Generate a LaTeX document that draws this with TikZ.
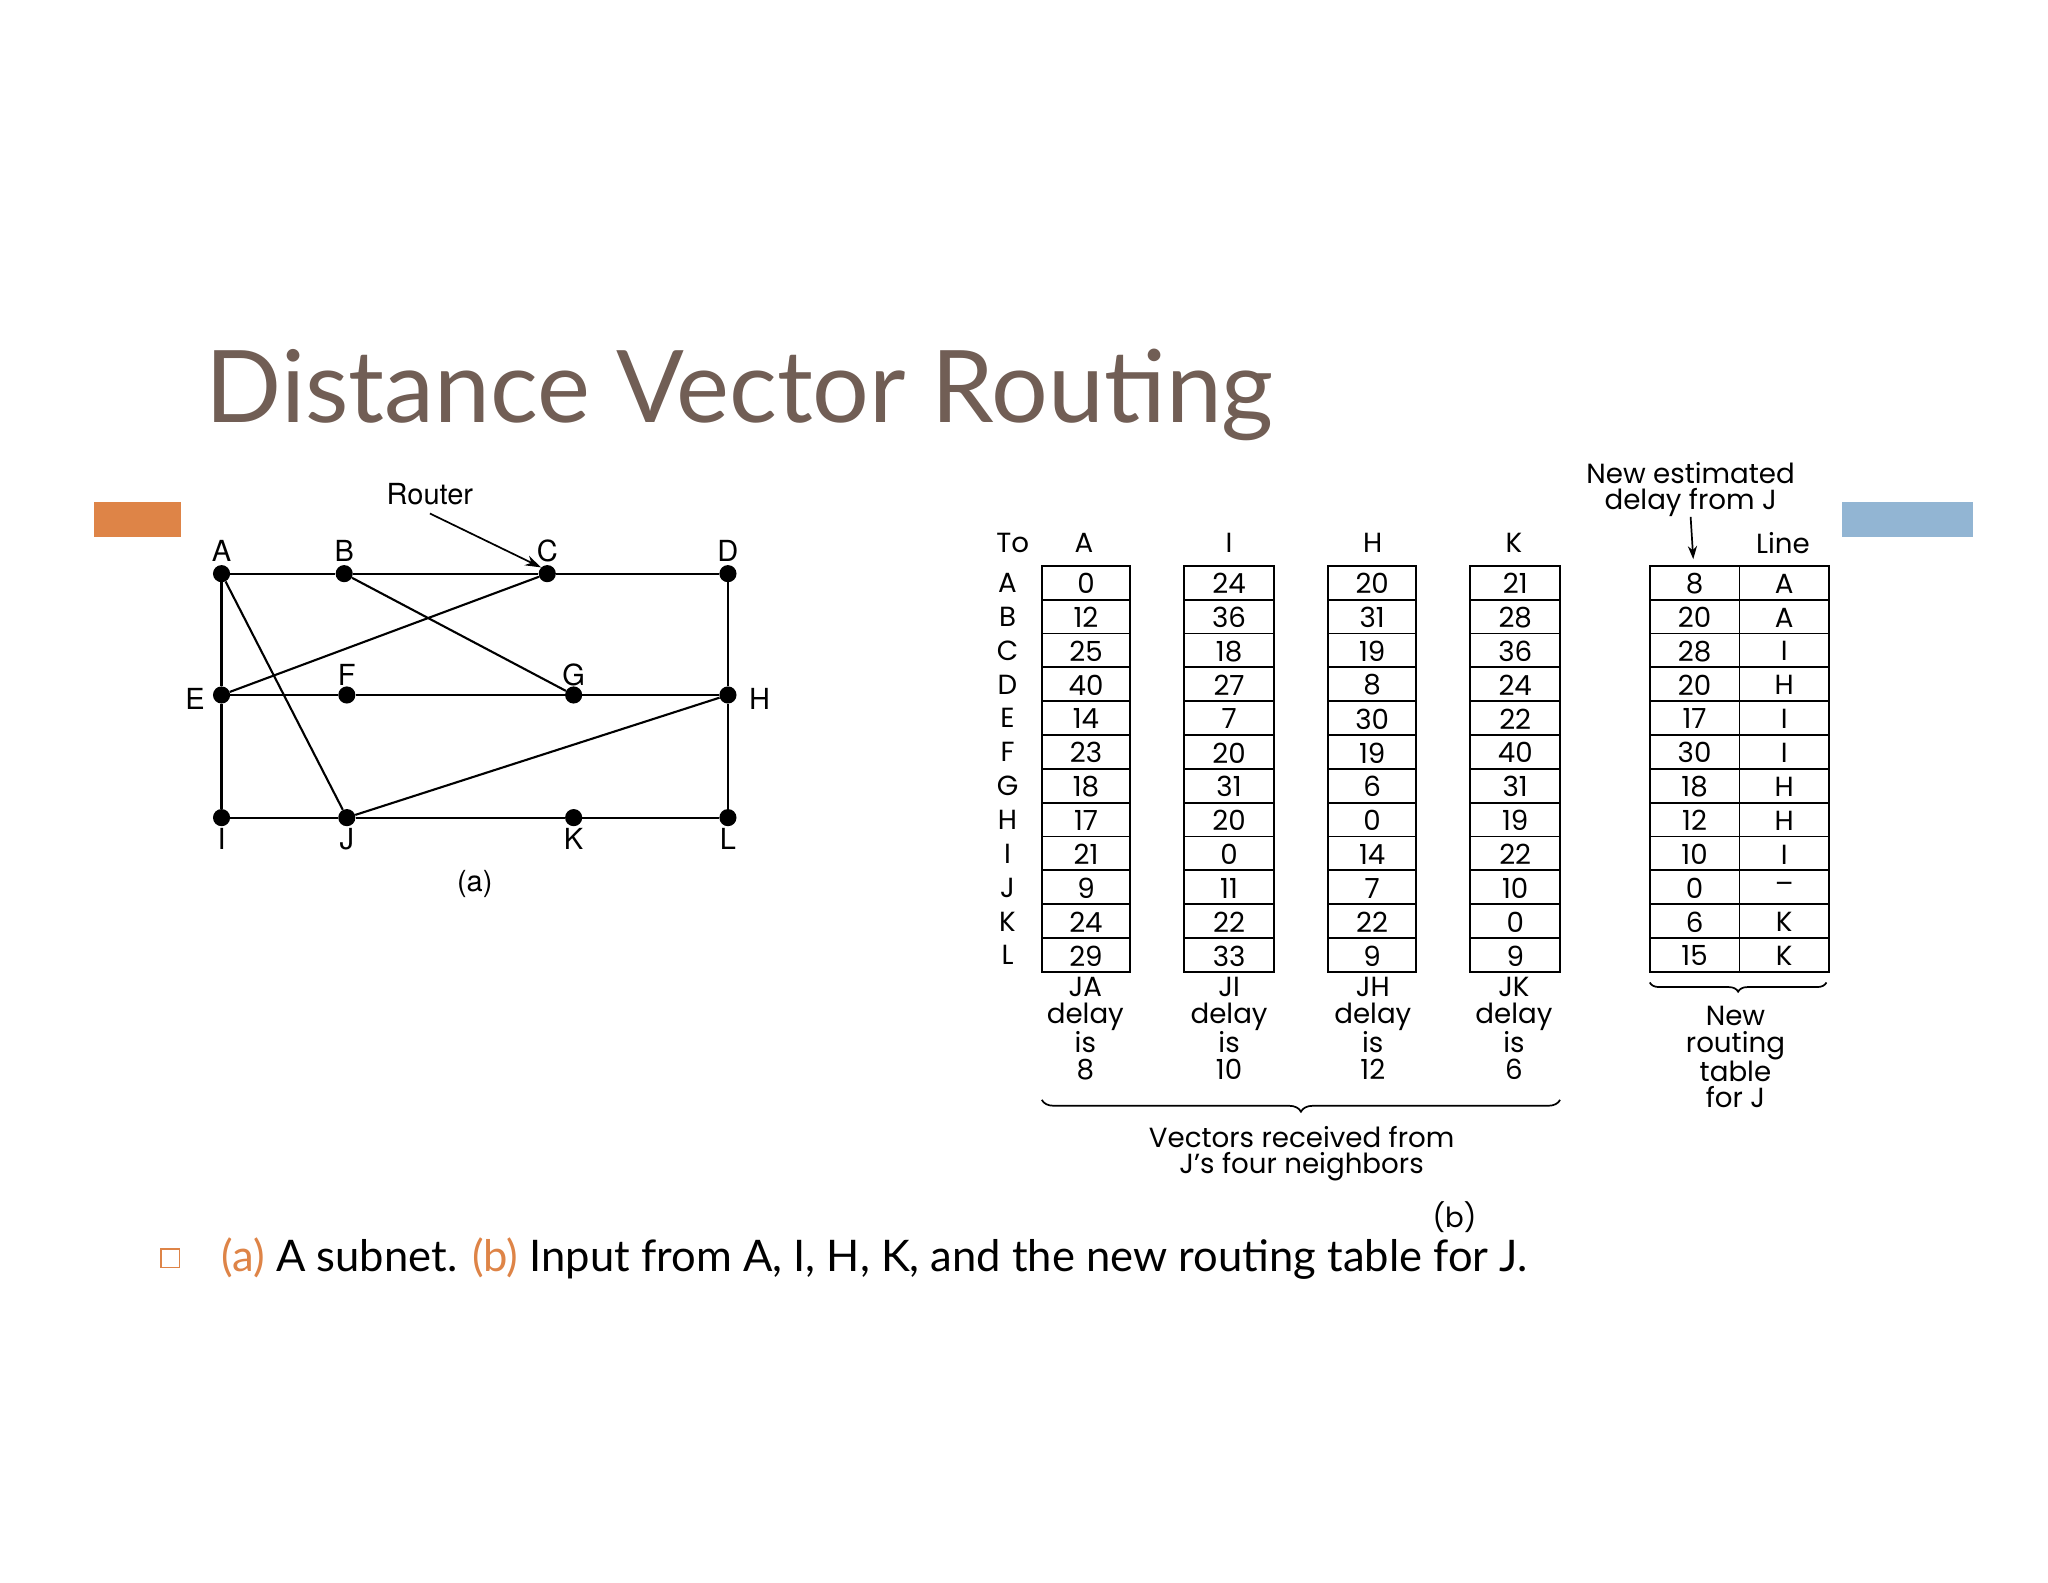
\documentclass[tikz,border=0pt]{standalone}
\usepackage{fontspec}
\setmainfont{Poppins}
\newfontfamily\helv{TeX Gyre Heros}
\newfontfamily\titlef{Lato}
\usetikzlibrary{decorations.pathreplacing,arrows.meta}
\definecolor{titlec}{HTML}{715E55}
\definecolor{orng}{HTML}{DE8447}
\definecolor{blu}{HTML}{92B5D3}
\tikzset{
  dot/.style={circle,fill=black,inner sep=0pt,minimum size=13pt},
  lbl/.style={font=\helv\fontsize{22}{24}\selectfont,inner sep=0pt},
  tab/.style={font=\fontsize{21}{22}\selectfont,inner sep=0pt},
  captxt/.style={font=\fontsize{21}{20}\selectfont,inner sep=0pt,align=center},
  edge/.style={line width=1.6pt},
  cell/.style={line width=1.4pt}
}
\begin{document}
\begin{tikzpicture}[x=1pt,y=-1pt]
\useasboundingbox[fill=white] (0,0) rectangle (1553,1200);
\node[anchor=base west,text=titlec,font=\titlef\fontsize{76}{80}\selectfont,inner sep=0pt] (title) at (156,320) {Distance Vector Routing};
\fill[orng] (71,381) rectangle (137,407);
\fill[blu] (1397,381) rectangle (1496,407);
% graph
\foreach \n/\x/\y in {A/168/435,B/261/435,C/415/435,D/552/435,E/168/527,F/263/527,G/435/527,H/552/527,I/168/620,J/263/620,K/435/620,L/552/620}
  \node[dot] (\n) at (\x,\y) {};
\draw[edge] (A)--(B)--(C)--(D)--(H)--(L)--(K)--(J)--(I)--(E)--(A);
\draw[edge] (E)--(F)--(G)--(H);
\draw[edge] (A)--(J); \draw[edge] (B)--(G); \draw[edge] (C)--(E); \draw[edge] (J)--(H);
\foreach \n/\x/\y in {A/168/418,B/261/418,C/415/418,D/552/418,E/148/530,F/263/512,G/435/512,H/576/530,I/168/636,J/263/636,K/435/636,L/552/636}
  \node[lbl] (l\n) at (\x,\y) {\n};
\node[lbl] (router) at (326,375) {Router};
\draw[line width=1.3pt,-{Stealth[length=12pt,width=8pt]}] (router.south) ++(0,6) coordinate (rs) (rs) -- (C.north west);
\node[lbl] (capa) at (360,670) {(a)};
% tables
\def\rowh{25.67}
\foreach \r [count=\i from 0] in {A,B,C,D,E,F,G,H,I,J,K,L}
  \node[tab] (r\r) at (764,{442+\i*\rowh}) {\r};
\node[tab] (to) at (768,412) {To};
\newcommand{\col}[3]{% x0, x1, list
  \foreach \v [count=\i from 0] in {#3} {
    \draw[cell] (#1,{429+\i*\rowh}) rectangle (#2,{429+(\i+1)*\rowh});
    \node[tab] at ({(#1+#2)/2},{442.5+\i*\rowh}) {\v};
  }}
\col{790}{857}{0,12,25,40,14,23,18,17,21,9,24,29}
\col{898}{966}{24,36,18,27,7,20,31,20,0,11,22,33}
\col{1007}{1074}{20,31,19,8,30,19,6,0,14,7,22,9}
\col{1115}{1183}{21,28,36,24,22,40,31,19,22,10,0,9}
\col{1251}{1319}{8,20,28,20,17,30,18,12,10,0,6,15}
\col{1319}{1387}{A,A,I,H,I,I,H,H,I,--,K,K}
\node[tab] (hA) at (822,412) {A};
\node[tab] (hI) at (932,412) {I};
\node[tab] (hH) at (1041,412) {H};
\node[tab] (hK) at (1148,412) {K};
\node[tab] (hL) at (1352,412) {Line};
\node[captxt] (nest) at (1282,371) {New estimated\\delay from J};
\coordinate (arrend) at (1284,424);
\draw[line width=1.3pt,-{Stealth[length=10pt,width=7pt]}] (nest.south) -- (arrend);
\node[captxt,anchor=north] (cA) at (823,741) {JA\\delay\\is\\8};
\node[captxt,anchor=north] (cI) at (932,741) {JI\\delay\\is\\10};
\node[captxt,anchor=north] (cH) at (1041,741) {JH\\delay\\is\\12};
\node[captxt,anchor=north] (cK) at (1148,741) {JK\\delay\\is\\6};
\draw[line width=1.3pt,decorate,decoration={brace,mirror,amplitude=9pt}] (790,834) -- (1183,834);
\node[captxt] (vec) at (987,875) {Vectors received from\\J's four neighbors};
\draw[line width=1.3pt,decorate,decoration={brace,mirror,amplitude=7pt}] (1251,745) -- (1385,745);
\node[captxt,anchor=north] (newt) at (1316,763) {New\\routing\\table\\for J};
\node[tab] (capb) at (1103,923) {(b)};
% bullet
\draw[line width=1pt,orng] (122,947) rectangle (136,961);
\node[anchor=base west,font=\titlef\fontsize{33}{36}\selectfont,inner sep=0pt] (bul) at (168,964) {\textcolor{orng}{(a)} A subnet. \textcolor{orng}{(b)} Input from A, I, H, K, and the new routing table for J.};
\end{tikzpicture}
\end{document}
